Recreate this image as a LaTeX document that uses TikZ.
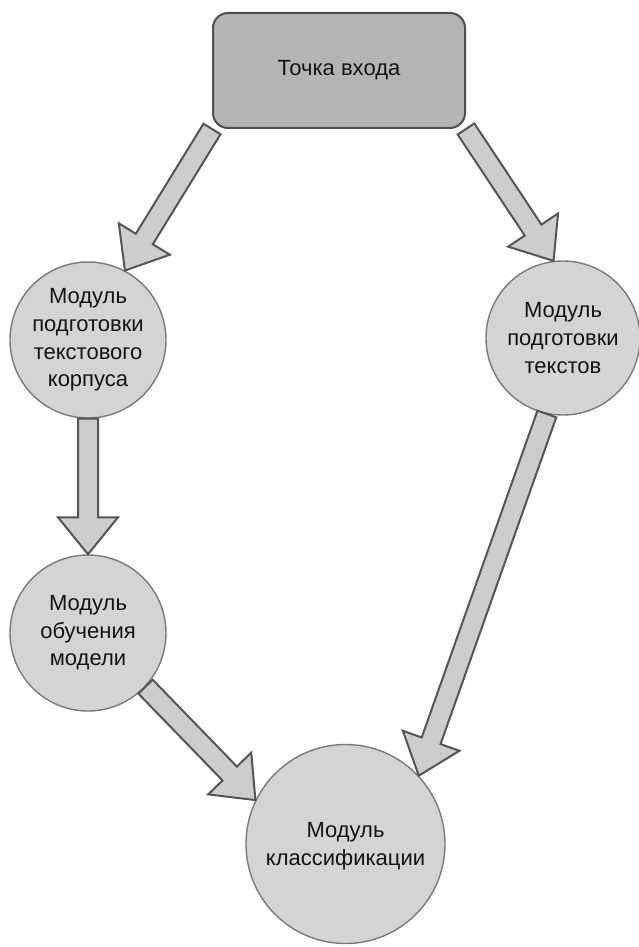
\documentclass[tikz,border=0pt]{standalone}
\usepackage{fontspec}
\setmainfont{Liberation Sans}
\usetikzlibrary{calc}

\definecolor{boxfill}{HTML}{B4B4B4}
\definecolor{boxline}{HTML}{505050}
\definecolor{circlefill}{HTML}{D4D4D4}
\definecolor{circleline}{HTML}{7A7A7A}
\definecolor{arrowfill}{HTML}{CDCDCD}
\definecolor{arrowline}{HTML}{555555}
\definecolor{textcol}{HTML}{141414}

% wide block arrow from #1 to #2
\newcommand{\blockarrow}[2]{%
  \path ($(#2)!18.5pt!(#1)$) coordinate (hb);
  \draw[arrowbody] ($(#1)!5pt!90:(#2)$) -- ($(hb)!5pt!-90:(#1)$) -- ($(hb)!15pt!-90:(#1)$) -- (#2)
    -- ($(hb)!15pt!90:(#1)$) -- ($(hb)!5pt!90:(#1)$) -- ($(#1)!5pt!-90:(#2)$) -- cycle;}

\begin{document}
\begin{tikzpicture}[x=0.5pt, y=-0.5pt, font=\fontsize{11}{13.8}\selectfont,
		module/.style={circle, draw=circleline, fill=circlefill, line width=0.7pt, align=center, inner sep=0pt, text=textcol},
		arrowbody/.style={draw=arrowline, fill=arrowfill, line width=1pt, line join=miter}]
			\useasboundingbox (0,0) rectangle (638,947);
			
			% Entry point
			\node[draw=boxline, fill=boxfill, rounded corners=7.5pt, line width=1pt, minimum width=126pt, minimum height=57.5pt, text=textcol] (entry) at (339,70.5) {Точка входа};
			
			% Modules
			\node[module, minimum size=78pt] (corpus) at (88,340) {Модуль\\подготовки\\текстового\\корпуса};
			\node[module, minimum size=77pt] (texts) at (563,338) {Модуль\\подготовки\\текстов};
			\node[module, minimum size=78pt] (training) at (88,633) {Модуль\\обучения\\модели};
			\node[module, minimum size=99.5pt] (classif) at (345.5,844) {\mbox{}\\[-3.8pt]Модуль\\классификации};
			
			% Arrows
			\blockarrow{entry.south west}{corpus.62}
			\blockarrow{entry.south east}{texts.97}
			\blockarrow{corpus.south}{training.north}
			\blockarrow{training.-43}{classif.154}
			\blockarrow{texts.-102}{classif.43}
		\end{tikzpicture}
\end{document}
